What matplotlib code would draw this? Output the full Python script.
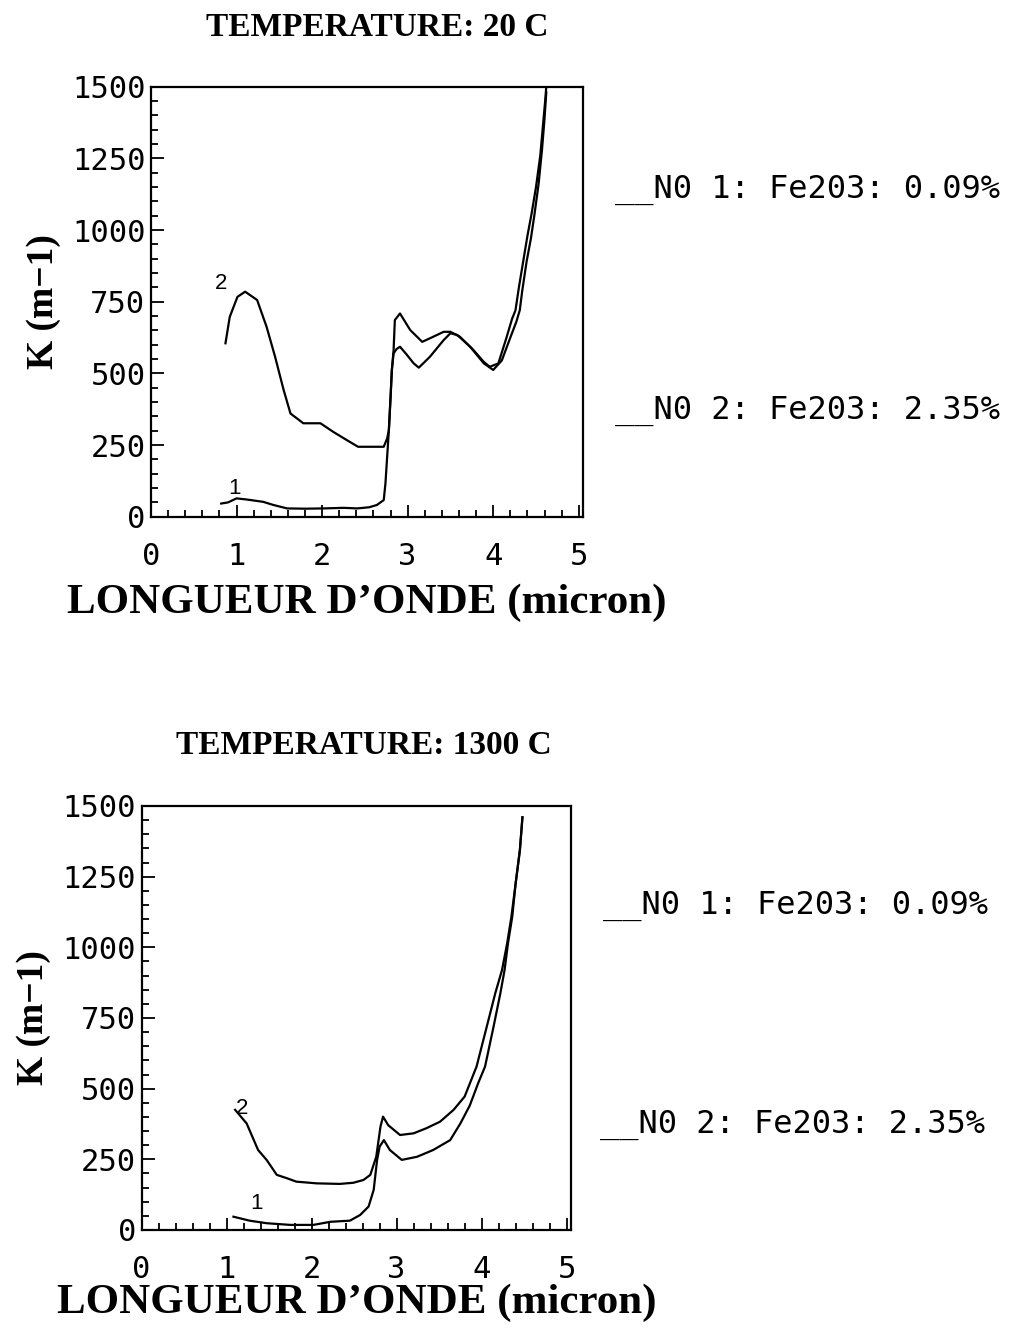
import matplotlib
matplotlib.use('Agg')

import matplotlib.pyplot as plt
from matplotlib.ticker import MultipleLocator

# --- data (wavelength in micron, K in m-1) ---
# 20 C
x1_20 = [0.82, 0.90, 1.00, 1.12, 1.31, 1.43, 1.59, 1.80, 2.02, 2.25, 2.41, 2.55,
         2.64, 2.72, 2.74, 2.76, 2.78, 2.80, 2.815, 2.835, 2.87, 2.91, 2.99, 3.07,
         3.13, 3.26, 3.42, 3.50, 3.58, 3.73, 3.89, 4.00, 4.10, 4.20, 4.27, 4.31,
         4.34, 4.39, 4.44, 4.48, 4.53, 4.57, 4.60, 4.62]
y1_20 = [46, 50, 64, 60, 52, 41, 29, 28, 29, 31, 29, 33,
         41, 58, 116, 209, 302, 418, 512, 570, 585, 593, 565, 535,
         520, 558, 616, 640, 634, 593, 535, 512, 545, 625, 680, 720,
         790, 890, 970, 1050, 1160, 1280, 1390, 1480]

x2_20 = [0.87, 0.92, 1.01, 1.10, 1.24, 1.35, 1.45, 1.55, 1.63, 1.78, 1.98, 2.13,
         2.29, 2.42, 2.72, 2.76, 2.78, 2.80, 2.815, 2.835, 2.85, 2.91, 3.03, 3.17,
         3.30, 3.42, 3.50, 3.61, 3.77, 3.89, 3.96, 4.06, 4.15, 4.22, 4.26, 4.30,
         4.35, 4.40, 4.45, 4.50, 4.55, 4.58, 4.61, 4.62]
y2_20 = [605, 697, 767, 785, 756, 663, 558, 442, 360, 326, 326, 296,
         267, 244, 244, 273, 302, 418, 512, 580, 686, 709, 651, 610,
         628, 645, 645, 628, 581, 540, 523, 535, 620, 690, 720, 800,
         890, 980, 1060, 1150, 1260, 1360, 1460, 1500]

# 1300 C
x1_1300 = [1.08, 1.27, 1.47, 1.75, 2.02, 2.22, 2.45, 2.57, 2.67, 2.73, 2.77, 2.80,
           2.85, 2.92, 3.06, 3.24, 3.43, 3.63, 3.75, 3.86, 3.96, 4.04, 4.14, 4.22,
           4.27, 4.31, 4.36, 4.40, 4.45, 4.48]
y1_1300 = [47, 33, 24, 18, 18, 29, 33, 53, 83, 142, 248, 295,
           318, 283, 248, 259, 283, 318, 377, 440, 520, 578, 719, 837,
           920, 1014, 1108, 1226, 1344, 1460]

x2_1300 = [1.10, 1.235, 1.37, 1.47, 1.59, 1.71, 1.82, 2.06, 2.33, 2.49, 2.61, 2.69,
           2.76, 2.81, 2.84, 2.90, 3.04, 3.20, 3.35, 3.51, 3.67, 3.80, 3.94, 4.06,
           4.16, 4.24, 4.30, 4.35, 4.40, 4.45, 4.48]
y2_1300 = [425, 377, 283, 248, 195, 183, 171, 165, 163, 167, 177, 195,
           259, 366, 401, 371, 336, 342, 360, 383, 425, 472, 578, 719,
           837, 920, 1014, 1108, 1226, 1344, 1460]

titles = ['TEMPERATURE: 20 C', 'TEMPERATURE: 1300 C']
legend_1 = '__N0 1: Fe203: 0.09%'
legend_2 = '__N0 2: Fe203: 2.35%'
xticks = [0, 1, 2, 3, 4, 5]
yticks = [0, 250, 500, 750, 1000, 1250, 1500]

# curve number labels (x, y) per panel
lab_pos_20 = {'1': (0.97, 99), '2': (0.82, 814)}
lab_pos_1300 = {'1': (1.35, 94), '2': (1.18, 430)}

fig = plt.figure(figsize=(10.22, 13.28), dpi=100)

panels = [
    ([0.1478, 0.6109, 0.4227, 0.3238], x1_20, y1_20, x2_20, y2_20, lab_pos_20,
     titles[0], (0.369, 0.9790), (0.6018, 0.857), (0.6018, 0.691), 9),
    ([0.1386, 0.0738, 0.4200, 0.3193], x1_1300, y1_1300, x2_1300, y2_1300, lab_pos_1300,
     titles[1], (0.356, 0.439), (0.590, 0.3185), (0.587, 0.1529), 0),
]

for rect, xa, ya, xb, yb, labs, title, tpos, l1pos, l2pos, xpad in panels:
    ax = fig.add_axes(rect)
    ax.plot(xa, ya, color='black', lw=1.6)
    ax.plot(xb, yb, color='black', lw=1.6)
    for k, (lx, ly) in labs.items():
        ax.text(lx, ly, k, fontsize=16, family='Liberation Sans',
                ha='center', va='center')

    ax.set_xlim(0, 5.05)
    ax.set_ylim(0, 1500)
    ax.set_xticks(xticks)
    ax.set_yticks(yticks)
    ax.xaxis.set_minor_locator(MultipleLocator(0.2))
    ax.yaxis.set_minor_locator(MultipleLocator(50))
    ax.tick_params(which='both', direction='in', top=False, right=False,
                   width=1.3, color='black')
    ax.tick_params(which='major', length=9)
    ax.tick_params(which='minor', length=5)
    ax.tick_params(axis='x', which='major', pad=18)
    ax.tick_params(axis='y', which='major', pad=4)
    for lab in ax.get_xticklabels() + ax.get_yticklabels():
        lab.set_family('DejaVu Sans Mono')
        lab.set_fontsize(22)
    for sp in ax.spines.values():
        sp.set_linewidth(1.6)

    ax.set_xlabel('LONGUEUR D\u2019ONDE (micron)', family='Liberation Serif',
                  fontweight='bold', fontsize=31, labelpad=xpad)
    ax.set_ylabel('K (m\u22121)', family='Liberation Serif',
                  fontweight='bold', fontsize=27, labelpad=8)

    fig.text(tpos[0], tpos[1], title, family='Liberation Serif',
             fontweight='bold', fontsize=24, ha='center', va='center')
    fig.text(l1pos[0], l1pos[1], legend_1, family='DejaVu Sans Mono',
             fontsize=23, ha='left', va='center')
    fig.text(l2pos[0], l2pos[1], legend_2, family='DejaVu Sans Mono',
             fontsize=23, ha='left', va='center')

fig.savefig('out.png', dpi=100)
